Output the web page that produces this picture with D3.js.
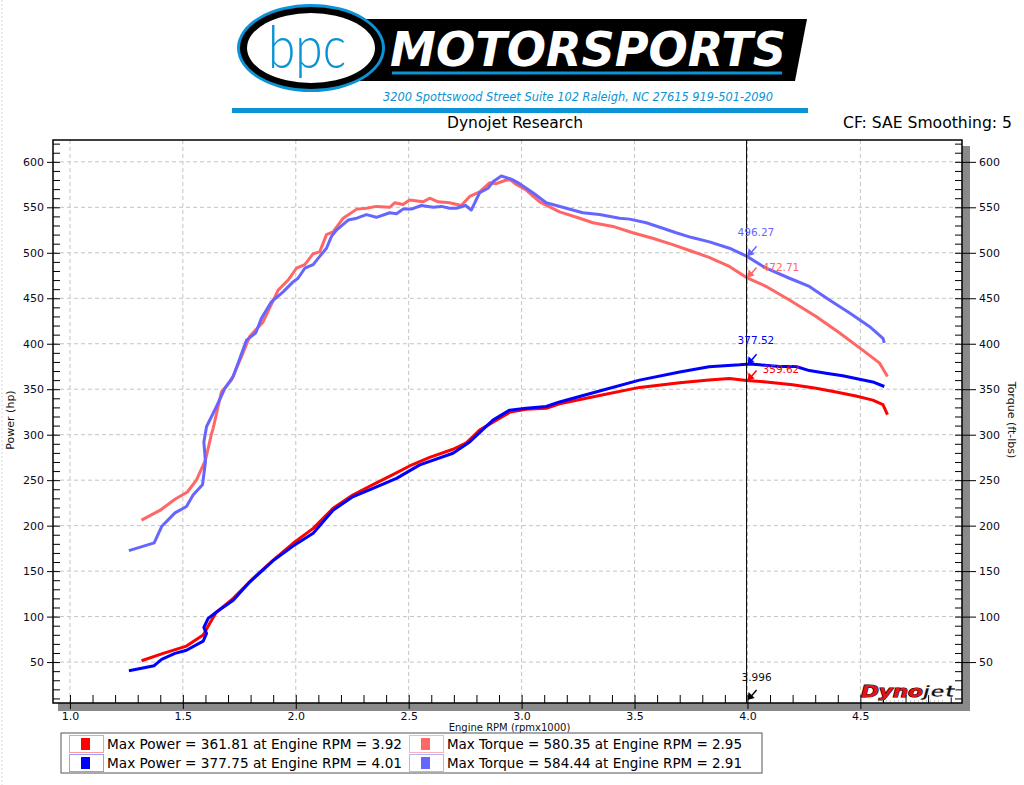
<!DOCTYPE html>
<html>
<head>
<meta charset="utf-8">
<script src="https://d3js.org/d3.v7.min.js"></script>
<style>
  body { margin: 0; background: #fff; }
  svg { display: block; }
</style>
</head>
<body>
<script>
// run 1 (red) / run 2 (blue), rpm is in x1000
var rpmRedPower = [1.317, 1.413, 1.516, 1.59, 1.627, 1.649, 1.723, 1.811, 1.90, 1.988, 2.077, 2.165, 2.254, 2.342, 2.43, 2.504, 2.593, 2.696, 2.755, 2.814, 2.888, 2.95, 3.02, 3.109, 3.168, 3.345, 3.522, 3.70, 3.83, 3.92, 3.996, 4.083, 4.20, 4.304, 4.392, 4.48, 4.555, 4.60, 4.62];
var redPower = [51.5, 59.6, 67.6, 79.7, 96, 105, 120, 142, 162, 180.6, 197, 219, 234, 245, 256, 265.6, 275, 284, 291, 305, 316, 325, 328, 329, 334, 343, 352, 357, 360, 361.8, 359.6, 358, 355, 351, 347, 342.6, 338, 333, 322];

var rpmBluePower = [1.261, 1.373, 1.406, 1.465, 1.516, 1.59, 1.605, 1.593, 1.612, 1.649, 1.723, 1.796, 1.90, 1.988, 2.077, 2.165, 2.254, 2.342, 2.446, 2.549, 2.696, 2.77, 2.873, 2.947, 3.02, 3.109, 3.168, 3.345, 3.522, 3.70, 3.83, 3.965, 3.996, 4.01, 4.053, 4.142, 4.215, 4.274, 4.348, 4.422, 4.496, 4.555, 4.606];
var bluePower = [40.5, 46, 53, 59.6, 63, 73, 81.6, 88, 98, 105, 118, 138, 161.5, 177.6, 191.6, 217, 232, 241, 252, 266.8, 279.6, 292, 316, 327, 329, 331, 336, 348, 360, 369, 374.6, 376.8, 377.5, 377.75, 376.8, 375, 375, 370.5, 367.6, 364.7, 361, 358, 353];

var rpmRedTorque = [1.317, 1.40, 1.465, 1.52, 1.56, 1.60, 1.627, 1.634, 1.671, 1.715, 1.76, 1.796, 1.855, 1.922, 1.966, 2.003, 2.04, 2.077, 2.106, 2.136, 2.165, 2.21, 2.27, 2.313, 2.357, 2.416, 2.438, 2.475, 2.504, 2.563, 2.593, 2.63, 2.681, 2.733, 2.77, 2.814, 2.858, 2.888, 2.932, 2.95, 2.977, 3.02, 3.08, 3.168, 3.257, 3.316, 3.404, 3.492, 3.58, 3.669, 3.75, 3.83, 3.92, 3.996, 4.083, 4.186, 4.304, 4.407, 4.51, 4.584, 4.62];
var redTorque = [206, 217, 229, 237, 250, 272, 301, 307, 347, 360, 386, 408, 424, 459, 470, 483, 487, 499, 501, 520, 523, 538, 548, 549, 551, 550, 555, 553, 558, 556, 560, 556, 555, 552, 562, 567, 577, 576, 580, 580.3, 575, 569, 556, 545, 538, 533, 529, 522, 516, 509, 502, 495, 485, 472.7, 463, 448, 430, 412, 393, 379, 364];

var rpmBlueTorque = [1.261, 1.373, 1.406, 1.465, 1.516, 1.546, 1.587, 1.60, 1.593, 1.605, 1.649, 1.686, 1.723, 1.782, 1.823, 1.848, 1.892, 1.944, 1.988, 2.01, 2.04, 2.077, 2.106, 2.136, 2.158, 2.18, 2.232, 2.27, 2.313, 2.357, 2.416, 2.446, 2.475, 2.512, 2.556, 2.608, 2.645, 2.681, 2.711, 2.752, 2.777, 2.814, 2.851, 2.873, 2.91, 2.954, 2.991, 3.05, 3.109, 3.198, 3.271, 3.345, 3.434, 3.478, 3.552, 3.625, 3.684, 3.75, 3.832, 3.92, 3.996, 4.083, 4.186, 4.274, 4.363, 4.451, 4.54, 4.60, 4.606];
var blueTorque = [172.5, 181, 199, 214, 221, 234, 245, 270, 292, 309, 331, 351, 364, 404, 412, 428, 446, 457, 468, 472, 483, 487, 496, 505, 518, 525, 536, 538, 542, 539, 544, 543, 548, 548, 552, 550, 551, 549, 549, 552, 547, 566, 571, 578, 584.4, 581, 576, 566, 555, 549, 544, 542, 538, 537, 533, 527, 522, 517, 512, 505, 496.3, 483, 472, 463, 448, 434, 419, 406, 401];

// axis ticks
var xTicks = [1.0, 1.5, 2.0, 2.5, 3.0, 3.5, 4.0, 4.5];
var yTicks = [50, 100, 150, 200, 250, 300, 350, 400, 450, 500, 550, 600];

// cursor readout
var cursorRpm = 3.996;
var cursorLabels = ["496.27", "472.71", "377.52", "359.62"];
var cursorValues = [496.27, 472.71, 377.52, 359.62];

// legend rows
var legendPower = ["Max Power = 361.81 at Engine RPM = 3.92", "Max Power = 377.75 at Engine RPM = 4.01"];
var legendTorque = ["Max Torque = 580.35 at Engine RPM = 2.95", "Max Torque = 584.44 at Engine RPM = 2.91"];

var colors = {
  redPower: "#ff0000",
  bluePower: "#0000ff",
  redTorque: "#ff6666",
  blueTorque: "#6666ff"
};

window.onload = function() {
  main();
};


function main() {
  /*
  Builds the whole dyno sheet
  */
  var svg = d3.select("body")
              .append("svg")
              .attr("width", 1024)
              .attr("height", 785);

  var plot = {left: 53, right: 962, top: 140, bottom: 703};

  var xScale = d3.scaleLinear()
                 .domain([0.925, 4.95])
                 .range([plot.left, plot.right]);
  var yScale = d3.scaleLinear()
                 .domain([5, 624])
                 .range([plot.bottom, plot.top]);

  // faint page border on the left
  svg.append("line")
     .attr("x1", 2).attr("x2", 2)
     .attr("y1", 0).attr("y2", 785)
     .attr("stroke", "#d8d8d8")
     .attr("stroke-dasharray", "2,2");

  drawHeader(svg);
  drawFrame(svg, plot, xScale, yScale);
  drawCurves(svg, plot, xScale, yScale);
  drawCursor(svg, plot, xScale, yScale);
  drawLegend(svg);
};


function drawHeader(svg) {
  /*
  bpc motorsports logo and the titles
  */
  var blue = "#0b93d5";

  // black band behind MOTORSPORTS
  svg.append("polygon")
     .attr("points", "360,19 807,19 795,81 360,81")
     .attr("fill", "#000");

  svg.append("line")
     .attr("x1", 392).attr("x2", 782)
     .attr("y1", 73).attr("y2", 73)
     .attr("stroke", blue)
     .attr("stroke-width", 3);

  svg.append("text")
     .attr("x", 390)
     .attr("y", 66)
     .attr("textLength", 396)
     .attr("lengthAdjust", "spacingAndGlyphs")
     .style("font-family", "'DejaVu Sans', sans-serif")
     .style("font-weight", "bold")
     .style("font-style", "italic")
     .style("font-size", "48px")
     .attr("fill", "#fff")
     .text("MOTORSPORTS");

  // oval with bpc
  svg.append("ellipse")
     .attr("cx", 311).attr("cy", 48)
     .attr("rx", 74).attr("ry", 44)
     .attr("fill", blue);
  svg.append("ellipse")
     .attr("cx", 311).attr("cy", 48)
     .attr("rx", 71).attr("ry", 41)
     .attr("fill", "#000");
  svg.append("ellipse")
     .attr("cx", 311).attr("cy", 48)
     .attr("rx", 64).attr("ry", 35)
     .attr("fill", "#fff");
  svg.append("text")
     .attr("x", 268)
     .attr("y", 68)
     .attr("textLength", 78)
     .attr("lengthAdjust", "spacingAndGlyphs")
     .style("font-family", "Lato, sans-serif")
     .style("font-weight", "300")
     .style("font-size", "60px")
     .attr("fill", blue)
     .text("bpc");

  // address
  svg.append("text")
     .attr("x", 383)
     .attr("y", 101)
     .attr("textLength", 390)
     .attr("lengthAdjust", "spacingAndGlyphs")
     .style("font-family", "'DejaVu Sans', sans-serif")
     .style("font-style", "italic")
     .style("font-size", "11.5px")
     .attr("fill", blue)
     .text("3200 Spottswood Street Suite 102 Raleigh, NC 27615  919-501-2090");

  svg.append("rect")
     .attr("x", 232).attr("y", 108)
     .attr("width", 576).attr("height", 5)
     .attr("fill", blue);

  // titles
  svg.append("text")
     .attr("x", 447)
     .attr("y", 128)
     .attr("textLength", 136)
     .attr("lengthAdjust", "spacingAndGlyphs")
     .style("font-family", "'DejaVu Sans Condensed', 'DejaVu Sans', sans-serif")
     .style("font-size", "16px")
     .attr("fill", "#000")
     .text("Dynojet Research");

  svg.append("text")
     .attr("x", 843)
     .attr("y", 128)
     .attr("textLength", 169)
     .attr("lengthAdjust", "spacingAndGlyphs")
     .style("font-family", "'DejaVu Sans Condensed', 'DejaVu Sans', sans-serif")
     .style("font-size", "16px")
     .attr("fill", "#000")
     .text("CF: SAE Smoothing: 5");
};


function drawFrame(svg, plot, xScale, yScale) {
  /*
  Plot box, shadow, grid and the four axes
  */
  var w = plot.right - plot.left;
  var h = plot.bottom - plot.top;

  // drop shadow
  svg.append("rect")
     .attr("x", plot.left + 5).attr("y", plot.bottom)
     .attr("width", w + 3).attr("height", 8)
     .attr("fill", "#8a8a8a");
  svg.append("rect")
     .attr("x", plot.right).attr("y", plot.top + 6)
     .attr("width", 8).attr("height", h + 2)
     .attr("fill", "#8a8a8a");

  svg.append("rect")
     .attr("x", plot.left).attr("y", plot.top)
     .attr("width", w).attr("height", h)
     .attr("fill", "#fff");

  // dashed grid
  svg.append("g")
     .selectAll("line")
     .data(xTicks)
     .join("line")
     .attr("x1", function(d) { return xScale(d); })
     .attr("x2", function(d) { return xScale(d); })
     .attr("y1", plot.top)
     .attr("y2", plot.bottom)
     .attr("stroke", "#c4c4c4")
     .attr("stroke-dasharray", "4,3");
  svg.append("g")
     .selectAll("line")
     .data(yTicks)
     .join("line")
     .attr("x1", plot.left)
     .attr("x2", plot.right)
     .attr("y1", function(d) { return yScale(d); })
     .attr("y2", function(d) { return yScale(d); })
     .attr("stroke", "#c4c4c4")
     .attr("stroke-dasharray", "4,3");

  var minorY = d3.range(10, 621, 10);
  var minorX = d3.range(10, 50).map(function(d) { return d / 10; });
  var font = "'DejaVu Sans', Verdana, sans-serif";

  // left axis
  var left = svg.append("g")
                .attr("transform", "translate(" + plot.left + ",0)")
                .call(d3.axisLeft(yScale).tickValues(yTicks).tickSize(6).tickPadding(3));
  var leftMinor = svg.append("g")
                     .attr("transform", "translate(" + plot.left + ",0)")
                     .call(d3.axisRight(yScale).tickValues(minorY).tickSize(7).tickFormat(""));

  // right axis
  var right = svg.append("g")
                 .attr("transform", "translate(" + plot.right + ",0)")
                 .call(d3.axisRight(yScale).tickValues(yTicks).tickSize(14).tickPadding(3));
  var rightMinor = svg.append("g")
                      .attr("transform", "translate(" + plot.right + ",0)")
                      .call(d3.axisLeft(yScale).tickValues(minorY).tickSize(7).tickFormat(""));

  // bottom axis
  var bottom = svg.append("g")
                  .attr("transform", "translate(0," + plot.bottom + ")")
                  .call(d3.axisBottom(xScale).tickValues(xTicks).tickSize(6).tickPadding(3)
                          .tickFormat(d3.format(".1f")));
  var bottomMinor = svg.append("g")
                       .attr("transform", "translate(0," + plot.bottom + ")")
                       .call(d3.axisTop(xScale).tickValues(minorX).tickSize(8).tickFormat(""));

  [left, leftMinor, right, rightMinor, bottom, bottomMinor].forEach(function(g) {
    g.select(".domain").remove();
    g.selectAll("line").attr("stroke", "#000");
    g.selectAll("text")
     .style("font-family", font)
     .style("font-size", "11px")
     .attr("fill", "#0a0a1a");
  });

  // box outline
  svg.append("rect")
     .attr("x", plot.left).attr("y", plot.top)
     .attr("width", w).attr("height", h)
     .attr("fill", "none")
     .attr("stroke", "#000")
     .attr("stroke-width", 1.5);

  // axis titles
  svg.append("text")
     .attr("transform", "translate(14," + 420 + ") rotate(-90)")
     .style("text-anchor", "middle")
     .style("font-family", font)
     .style("font-size", "11px")
     .attr("fill", "#111")
     .text("Power (hp)");

  svg.append("text")
     .attr("transform", "translate(1008," + 420 + ") rotate(90)")
     .style("text-anchor", "middle")
     .style("font-family", font)
     .style("font-size", "11px")
     .attr("fill", "#111")
     .text("Torque (ft-lbs)");

  // sits right on top of the legend box, as on the original sheet
  svg.append("text")
     .attr("x", (plot.left + plot.right) / 2 + 2)
     .attr("y", 731)
     .style("text-anchor", "middle")
     .style("font-family", font)
     .style("font-size", "10px")
     .attr("fill", "#111")
     .text("Engine RPM (rpmx1000)");

  // dynojet badge
  var badge = svg.append("text")
                 .attr("x", 861)
                 .attr("y", 697)
                 .style("font-family", "'DejaVu Sans', sans-serif")
                 .style("font-weight", "bold")
                 .style("font-style", "italic")
                 .style("font-size", "15px")
                 .attr("textLength", 94)
                 .attr("lengthAdjust", "spacingAndGlyphs");
  badge.append("tspan")
       .attr("fill", "#e2141b")
       .attr("stroke", "#000")
       .attr("stroke-width", 1)
       .attr("paint-order", "stroke")
       .text("Dyno");
  badge.append("tspan")
       .attr("fill", "#111")
       .attr("stroke", "#fff")
       .attr("stroke-width", 0.6)
       .text("jet");
  svg.append("line")
     .attr("x1", 878).attr("x2", 945)
     .attr("y1", 701).attr("y2", 701)
     .attr("stroke", "#999")
     .attr("stroke-dasharray", "1,3");
};


function drawCurves(svg, plot, xScale, yScale) {
  /*
  The two power and two torque runs
  */
  svg.append("clipPath")
     .attr("id", "plotClip")
     .append("rect")
     .attr("x", plot.left).attr("y", plot.top)
     .attr("width", plot.right - plot.left)
     .attr("height", plot.bottom - plot.top);

  var series = [
    {rpm: rpmRedTorque, val: redTorque, color: colors.redTorque},
    {rpm: rpmBlueTorque, val: blueTorque, color: colors.blueTorque},
    {rpm: rpmRedPower, val: redPower, color: colors.redPower},
    {rpm: rpmBluePower, val: bluePower, color: colors.bluePower}
  ];

  var line = d3.line()
               .x(function(d) { return xScale(d[0]); })
               .y(function(d) { return yScale(d[1]); });

  var g = svg.append("g").attr("clip-path", "url(#plotClip)");
  series.forEach(function(s) {
    var points = s.rpm.map(function(r, i) { return [r, s.val[i]]; });
    g.append("path")
     .attr("d", line(points))
     .attr("fill", "none")
     .attr("stroke", s.color)
     .attr("stroke-width", 3)
     .attr("stroke-linejoin", "round")
     .attr("stroke-linecap", "butt");
  });
};


function arrow(svg, x, y, color) {
  /*
  little arrow pointing down-left at (x, y)
  */
  svg.append("line")
     .attr("x1", x + 9).attr("y1", y - 10)
     .attr("x2", x + 3).attr("y2", y - 3)
     .attr("stroke", color)
     .attr("stroke-width", 1.5);
  svg.append("polygon")
     .attr("points", [[x, y], [x + 1, y - 8], [x + 7, y - 2]].join(" "))
     .attr("fill", color);
};


function drawCursor(svg, plot, xScale, yScale) {
  /*
  Vertical cursor line with the value readouts
  */
  var cx = xScale(cursorRpm);
  var font = "'DejaVu Sans', Verdana, sans-serif";

  svg.append("line")
     .attr("x1", cx).attr("x2", cx)
     .attr("y1", plot.top).attr("y2", plot.bottom)
     .attr("stroke", "#000")
     .attr("stroke-width", 1);

  var labelColors = [colors.blueTorque, colors.redTorque, colors.bluePower, colors.redPower];
  cursorValues.forEach(function(v, i) {
    var py = yScale(v);
    var above = (i % 2 === 0);
    arrow(svg, cx + 1, py, labelColors[i]);
    svg.append("text")
       .attr("x", above ? cx - 9 : cx + 16)
       .attr("y", above ? py - 20 : py - 7)
       .style("font-family", font)
       .style("font-size", "10.5px")
       .attr("fill", labelColors[i])
       .text(cursorLabels[i]);
  });

  // rpm readout at the bottom
  arrow(svg, cx + 1, plot.bottom - 3, "#000");
  svg.append("text")
     .attr("x", cx - 5)
     .attr("y", 681)
     .style("font-family", font)
     .style("font-size", "10.5px")
     .attr("fill", "#111")
     .text(d3.format(".3f")(cursorRpm));
};


function drawLegend(svg) {
  /*
  Max power / max torque table under the chart
  */
  var box = {x: 61, y: 733, w: 701, h: 40};
  var rowColors = [
    [colors.redPower, colors.redTorque, "#ff9a9a", "#ffb4b4"],
    [colors.bluePower, colors.blueTorque, "#9a9aff", "#b4b4ff"]
  ];

  svg.append("rect")
     .attr("x", box.x).attr("y", box.y)
     .attr("width", box.w).attr("height", box.h)
     .attr("fill", "#fff")
     .attr("stroke", "#555")
     .attr("stroke-width", 1);

  [0, 1].forEach(function(r) {
    var top = box.y + 2 + r * 19;
    var cols = [{x: 69, label: legendPower[r], fill: rowColors[r][0], edge: rowColors[r][2]},
                {x: 409, label: legendTorque[r], fill: rowColors[r][1], edge: rowColors[r][3]}];
    cols.forEach(function(c) {
      svg.append("rect")
         .attr("x", c.x + 0.5).attr("y", top + 0.5)
         .attr("width", 34).attr("height", 17)
         .attr("fill", "#fff")
         .attr("stroke", c.edge);
      svg.append("rect")
         .attr("x", c.x + 12).attr("y", top + 3)
         .attr("width", 9).attr("height", 12)
         .attr("fill", c.fill);
      svg.append("text")
         .attr("x", c.x + 38)
         .attr("y", top + 14)
         .attr("textLength", 295)
         .attr("lengthAdjust", "spacingAndGlyphs")
         .style("font-family", "'DejaVu Sans Condensed', 'DejaVu Sans', sans-serif")
         .style("font-size", "14px")
         .attr("fill", "#000")
         .text(c.label);
    });
  });
};
</script>
</body>
</html>
